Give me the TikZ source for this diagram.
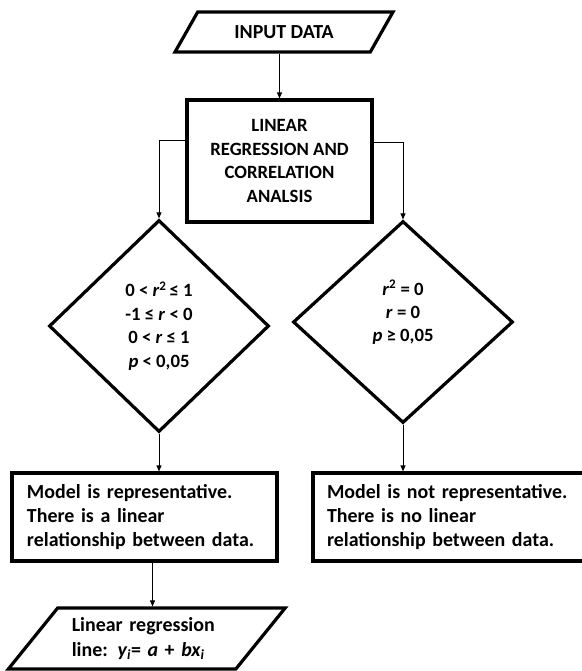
\documentclass[tikz,border=0pt]{standalone}
\usepackage{fontspec}
\setmainfont{Carlito}
\usetikzlibrary{shapes.geometric,arrows.meta}

\begin{document}
\begin{tikzpicture}[x=1bp, y=-1bp,
    font=\bfseries\fontsize{18.8}{23.5}\selectfont,
    big/.style={font=\bfseries\fontsize{20}{24.5}\selectfont},
    box/.style={draw, line width=3.2bp, rectangle, inner sep=0pt},
    para/.style={draw, line width=3.2bp, trapezium, trapezium left angle=45,
        trapezium right angle=135, trapezium stretches=true, inner sep=0pt},
    cond/.style={draw, line width=3.2bp, diamond, inner sep=0pt, align=center},
    arr/.style={-{Triangle[width=5bp,length=6bp]}, line width=0.9bp}]
    \useasboundingbox (0,0) rectangle (582,671);

    \node[para, big, minimum width=218bp, minimum height=40bp] (input) at (284,32) {INPUT DATA};
    \node[box, minimum width=185bp, minimum height=122bp, align=center] (lr) at (279.5,161)
        {LINEAR\\REGRESSION AND\\CORRELATION\\ANALSIS};

    \node[cond, minimum width=220bp, minimum height=212bp] (dl) at (159,326)
        {0 < \textit{r}\textsuperscript{2}\,≤ 1\\-1 ≤ \textit{r} < 0\\0 < \textit{r} ≤ 1\\\textit{p} < 0,05};
    \node[cond, minimum width=220bp, minimum height=202bp, text depth=22bp] (dr) at (403,322)
        {\textit{r}\textsuperscript{2} = 0\\\textit{r} = 0\\\textit{p} ≥ 0,05};

    \node[box, big, minimum width=265bp, minimum height=88bp, text width=235bp, align=left] (mr)
        at (144.5,517) {Model is representative.\\There is a linear\\relationship between data.};
    \node[box, big, minimum width=273bp, minimum height=88bp, text width=245bp, align=left] (mn)
        at (449.5,517) {Model is not representative.\\There is no linear\\relationship between data.};

    \node[para, big, minimum width=277bp, minimum height=61bp, text width=150bp, align=left] (line)
        at (146.75,638.5) {Linear regression\\line: \textit{y\textsubscript{i}}= \textit{a} + \textit{bx\textsubscript{i}}};

    \draw[arr] (input.south -| lr.north) -- (lr.north);
    \draw[arr] ([yshift=21bp]lr.west) -| (dl.north);
    \draw[arr] ([yshift=19bp]lr.east) -| (dr.north);
    \draw[arr] (dl.south) -- (dl.south |- mr.north);
    \draw[arr] (dr.south) -- (dr.south |- mn.north);
    \draw[arr] ([xshift=8bp]mr.south) -- ([xshift=8bp]mr.south |- line.north);
\end{tikzpicture}
\end{document}
